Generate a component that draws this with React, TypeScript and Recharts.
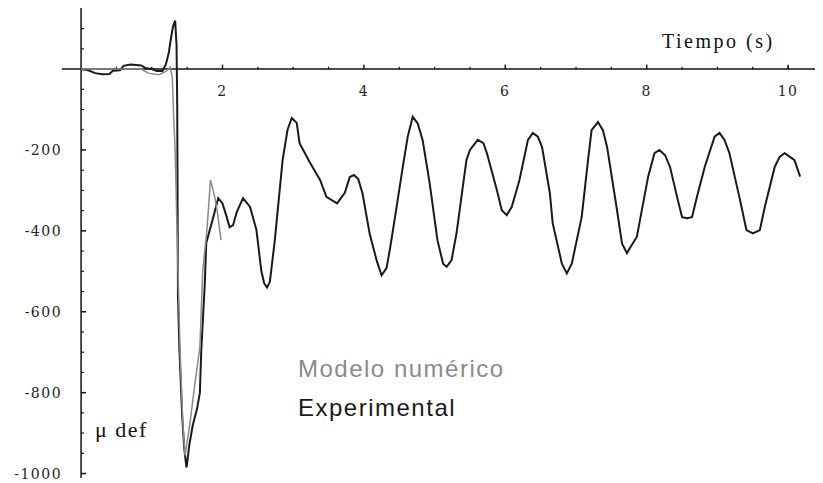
import React from 'react';
import { LineChart, Line, XAxis, YAxis, ReferenceLine, ReferenceDot } from 'recharts';

// experimental strain (black), time in s / micro-strain
const expT = [0, 0.1, 0.2, 0.3, 0.4, 0.45, 0.55, 0.6, 0.7, 0.85, 0.92, 1.0, 1.07, 1.15, 1.2, 1.24, 1.27, 1.3, 1.33, 1.35, 1.36, 1.37, 1.39, 1.43, 1.46, 1.49, 1.5, 1.53, 1.58, 1.64, 1.68, 1.7, 1.75, 1.77, 1.87, 1.94, 2.0, 2.06, 2.1, 2.15, 2.2, 2.29, 2.39, 2.48, 2.55, 2.59, 2.63, 2.67, 2.74, 2.85, 2.92, 2.98, 3.05, 3.09, 3.23, 3.38, 3.47, 3.62, 3.73, 3.8, 3.86, 3.92, 3.98, 4.08, 4.18, 4.25, 4.32, 4.37, 4.44, 4.55, 4.62, 4.69, 4.76, 4.83, 4.93, 5.04, 5.12, 5.17, 5.24, 5.31, 5.45, 5.5, 5.61, 5.69, 5.74, 5.88, 5.95, 6.02, 6.09, 6.16, 6.2, 6.32, 6.39, 6.46, 6.52, 6.63, 6.67, 6.8, 6.87, 6.94, 7.08, 7.17, 7.22, 7.31, 7.38, 7.44, 7.58, 7.65, 7.72, 7.76, 7.86, 8.02, 8.11, 8.18, 8.26, 8.33, 8.44, 8.5, 8.57, 8.64, 8.71, 8.82, 8.96, 9.03, 9.1, 9.17, 9.32, 9.41, 9.5, 9.6, 9.67, 9.81, 9.88, 9.95, 10.05, 10.09, 10.17];
const expV = [0, -3, -10, -13, -12, -4, -3, 8, 11, 9, 2, 0, -5, -5, 12, 40, 75, 105, 120, 60, -100, -560, -690, -860, -940, -985, -975, -930, -880, -840, -800, -695, -529, -430, -366, -319, -332, -366, -391, -386, -354, -319, -341, -398, -500, -530, -540, -526, -423, -225, -150, -121, -133, -183, -229, -274, -316, -332, -306, -267, -262, -272, -307, -406, -473, -510, -492, -443, -366, -242, -167, -118, -134, -175, -282, -423, -481, -489, -472, -406, -225, -200, -175, -183, -208, -299, -349, -361, -341, -299, -274, -175, -158, -167, -193, -307, -381, -481, -505, -481, -366, -225, -151, -131, -151, -193, -349, -431, -455, -443, -415, -266, -208, -200, -213, -242, -324, -366, -369, -366, -316, -242, -167, -158, -175, -208, -324, -398, -406, -398, -341, -242, -217, -208, -220, -225, -266];

// numerical model (grey)
const numT = [0, 0.85, 0.95, 1.1, 1.2, 1.26, 1.29, 1.31, 1.33, 1.36, 1.4, 1.44, 1.47, 1.54, 1.61, 1.68, 1.72, 1.78, 1.83, 1.89, 1.93, 1.96, 1.98];
const numV = [0, 0, -10, -14, -6, 5, -20, -120, -200, -420, -700, -880, -955, -876, -777, -688, -500, -398, -274, -316, -356, -398, -423];

const xMajorTicks = [2, 4, 6, 8, 10];
const xMinorTicks = [0.5, 1, 1.5, 2.5, 3, 3.5, 4.5, 5, 5.5, 6.5, 7, 7.5, 8.5, 9, 9.5, 10];
const yMajorTicks = [-200, -400, -600, -800, -1000];
const yMinorTicks = [100, 50, -50, -100, -150, -250, -300, -350, -450, -500, -550, -650, -700, -750, -850, -900, -950];

const expData = expT.map((t, i) => ({ t, v: expV[i] }));
const numData = numT.map((t, i) => ({ t, v: numV[i] }));

const tickFont = { fontFamily: '"DejaVu Serif", serif', fontSize: 14, letterSpacing: 1.5, fill: '#222' };

const App = () => {
  return (
    <div style={{ position: 'absolute', left: 0, top: 0, width: 823, height: 483, background: '#fff' }}>
      <LineChart width={823} height={483} data={expData} margin={{ top: 8, right: 8, bottom: 5, left: 62 }}>
        <XAxis type="number" dataKey="t" domain={[-0.27, 10.38]} hide allowDataOverflow />
        <YAxis type="number" domain={[-1011, 151]} hide allowDataOverflow />

        <ReferenceLine y={0} stroke="#111" strokeWidth={1.5} />
        <ReferenceLine x={0} stroke="#111" strokeWidth={1.5} />

        {xMajorTicks.map((t) => (
          <ReferenceLine key={'xM' + t} segment={[{ x: t, y: 0 }, { x: t, y: 11 }]} stroke="#111" strokeWidth={1.5} />
        ))}
        {xMinorTicks.map((t) => (
          <ReferenceLine key={'xm' + t} segment={[{ x: t, y: 0 }, { x: t, y: 6 }]} stroke="#111" strokeWidth={1.2} />
        ))}
        {yMajorTicks.map((v) => (
          <ReferenceLine key={'yM' + v} segment={[{ x: 0, y: v }, { x: 0.07, y: v }]} stroke="#111" strokeWidth={1.5} />
        ))}
        {yMinorTicks.map((v) => (
          <ReferenceLine key={'ym' + v} segment={[{ x: 0, y: v }, { x: 0.04, y: v }]} stroke="#111" strokeWidth={1.2} />
        ))}

        {xMajorTicks.map((t) => (
          <ReferenceDot
            key={'xl' + t}
            x={t}
            y={0}
            r={0}
            shape={(p: any) => (
              <text x={p.cx} y={p.cy + 27} textAnchor="middle" {...tickFont}>
                {t}
              </text>
            )}
          />
        ))}
        {yMajorTicks.map((v) => (
          <ReferenceDot
            key={'yl' + v}
            x={0}
            y={v}
            r={0}
            shape={(p: any) => (
              <text x={p.cx - 19} y={p.cy + 5} textAnchor="end" {...tickFont}>
                {v}
              </text>
            )}
          />
        ))}

        <Line data={expData} dataKey="v" type="linear" stroke="#1a1a1a" strokeWidth={2} dot={false} isAnimationActive={false} />
        <Line data={numData} dataKey="v" type="linear" stroke="#8a8a8a" strokeWidth={1.5} dot={false} isAnimationActive={false} />
      </LineChart>

      <svg width={823} height={483} style={{ position: 'absolute', left: 0, top: 0, pointerEvents: 'none' }}>
        <text x={662} y={48} fontFamily='"Liberation Serif", serif' fontSize={20} letterSpacing={2.5} fill="#111">
          Tiempo (s)
        </text>
        <text x={95} y={437} fontFamily='"Liberation Serif", serif' fontSize={22} letterSpacing={1.5} fill="#111">
          μ def
        </text>
        <text x={298} y={377} fontFamily='"Liberation Sans", Arial, sans-serif' fontSize={24} letterSpacing={1.5} fill="#8a8a8a">
          Modelo numérico
        </text>
        <text x={298} y={416} fontFamily='"Liberation Sans", Arial, sans-serif' fontSize={24} letterSpacing={1.5} fill="#1a1a1a">
          Experimental
        </text>
      </svg>
    </div>
  );
};

export default App;
